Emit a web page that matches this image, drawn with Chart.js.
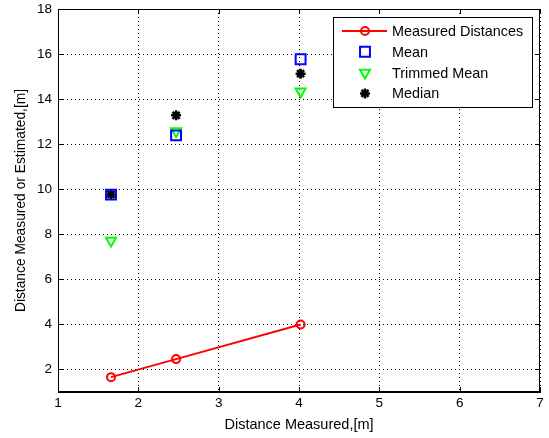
<!DOCTYPE html>
<html><head><meta charset="utf-8">
<script src="https://cdn.jsdelivr.net/npm/chart.js@4/dist/chart.umd.min.js"></script>
<style>html,body{margin:0;padding:0;background:#fff}#wrap{width:549px;height:438px;position:relative}</style>
</head><body><div id="wrap"><canvas id="c" width="549" height="438" style="width:549px;height:438px"></canvas></div>
<script>
const measuredX = [1.66, 2.47, 4.02];
const measuredY = [1.66, 2.46, 4.0];
const meanY = [9.76, 12.39, 15.77];
const trimmedY = [7.72, 12.58, 14.34];
const medianY = [9.77, 13.28, 15.13];
const xTicks = [1, 2, 3, 4, 5, 6, 7];
const yTicks = [2, 4, 6, 8, 10, 12, 14, 16, 18];
const seriesNames = ['Measured Distances', 'Mean', 'Trimmed Mean', 'Median'];

const FAM = 'Liberation Sans, Arial, sans-serif';
const TICKFONT = {family: FAM, size: 13.5};
const XTITLEFONT = {family: FAM, size: 14.5};
const YTITLEFONT = {family: FAM, size: 13.8};
const LEGENDSIZE = 14.4;
const pts = ys => measuredX.map((x, i) => ({x: x, y: ys[i]}));

const legendPlugin = {
  id: 'boxLegend',
  afterDatasetsDraw(chart) {
    const ctx = chart.ctx, ca = chart.chartArea;
    ctx.save();
    ctx.strokeStyle = '#000'; ctx.lineWidth = 1; ctx.setLineDash([]);
    ctx.strokeRect(Math.round(ca.left) + 0.5, Math.round(ca.top) + 0.5, Math.round(ca.right - ca.left) - 1, Math.round(ca.bottom - ca.top) - 1);
    const xs = chart.scales.x, ys = chart.scales.y;
    ctx.beginPath();
    xTicks.forEach(v => { const px = Math.round(xs.getPixelForValue(v)) + 0.5;
      ctx.moveTo(px, ca.bottom); ctx.lineTo(px, ca.bottom - 5);
      ctx.moveTo(px, ca.top); ctx.lineTo(px, ca.top + 5); });
    yTicks.forEach(v => { const py = Math.round(ys.getPixelForValue(v)) + 0.5;
      ctx.moveTo(ca.left, py); ctx.lineTo(ca.left + 5, py);
      ctx.moveTo(ca.right, py); ctx.lineTo(ca.right - 5, py); });
    ctx.stroke();
    const bx = 333, by = 17, bw = 199, bh = 90;
    ctx.fillStyle = '#fff'; ctx.fillRect(bx, by, bw, bh);
    ctx.strokeRect(bx + 0.5, by + 0.5, bw, bh);
    ctx.font = LEGENDSIZE + 'px ' + FAM;
    ctx.textBaseline = 'middle'; ctx.textAlign = 'left'; ctx.fillStyle = '#000';
    chart.data.datasets.forEach((ds, i) => {
      const cy = 31 + i * 20.8, mx = 365;
      if (ds.showLine) {
        ctx.strokeStyle = ds.borderColor; ctx.lineWidth = ds.borderWidth;
        ctx.beginPath(); ctx.moveTo(342, cy); ctx.lineTo(387, cy); ctx.stroke();
      }
      ctx.strokeStyle = ds.pointBorderColor; ctx.fillStyle = ds.pointBackgroundColor;
      ctx.lineWidth = ds.pointBorderWidth;
      Chart.helpers.drawPoint(ctx, {pointStyle: ds.pointStyle, rotation: ds.pointRotation || 0, radius: ds.pointRadius, borderWidth: ds.pointBorderWidth}, mx, cy);
      ctx.fillStyle = '#000';
      ctx.fillText(ds.label, 392, cy + 1);
    });
    ctx.restore();
  }
};

new Chart(document.getElementById('c'), {
  type: 'scatter',
  data: {
    datasets: [
      {label: seriesNames[0], data: pts(measuredY), showLine: true, borderColor: '#ff0000', borderWidth: 2,
       pointStyle: 'circle', pointRadius: 4, pointBorderColor: '#ff0000', pointBackgroundColor: 'rgba(0,0,0,0)', pointBorderWidth: 2},
      {label: seriesNames[1], data: pts(meanY), showLine: false, borderColor: '#0000ff',
       pointStyle: 'rect', pointRadius: 7, pointBorderColor: '#0000ff', pointBackgroundColor: 'rgba(0,0,0,0)', pointBorderWidth: 2},
      {label: seriesNames[2], data: pts(trimmedY), showLine: false, borderColor: '#00ff00',
       pointStyle: 'triangle', pointRotation: 180, pointRadius: 5.8, pointBorderColor: '#00ff00', pointBackgroundColor: 'rgba(0,0,0,0)', pointBorderWidth: 2},
      {label: seriesNames[3], data: pts(medianY), showLine: false, borderColor: '#000',
       pointStyle: 'star', pointRadius: 5, pointBorderColor: '#000', pointBackgroundColor: '#000', pointBorderWidth: 2.5}
    ]
  },
  options: {
    responsive: false, animation: false, devicePixelRatio: 1,
    layout: {padding: {left: 0, right: 8, top: 9, bottom: 0}},
    plugins: {legend: {display: false}, tooltip: {enabled: false}},
    scales: {
      x: {type: 'linear', min: 1, max: 7,
        afterBuildTicks: s => { s.ticks = xTicks.map(v => ({value: v})); },
        afterFit: s => { s.height = 46; s.paddingLeft = 0; s.paddingRight = 0; },
        ticks: {color: '#000', font: TICKFONT, padding: 3, callback: v => String(v)},
        grid: {color: '#000', lineWidth: 1, drawTicks: false, tickLength: 0},
        border: {display: true, color: '#000', dash: [1, 3]},
        title: {display: true, text: 'Distance Measured,[m]', color: '#000', font: XTITLEFONT, padding: {top: 0}}
      },
      y: {type: 'linear', min: 1, max: 18,
        afterBuildTicks: s => { s.ticks = yTicks.map(v => ({value: v})); },
        afterFit: s => { s.width = 58; s.paddingTop = 0; s.paddingBottom = 0; },
        ticks: {color: '#000', font: TICKFONT, padding: 6, callback: v => String(v)},
        grid: {color: '#000', lineWidth: 1, drawTicks: false, tickLength: 0},
        border: {display: true, color: '#000', dash: [1, 3]},
        title: {display: true, text: 'Distance Measured or Estimated,[m]', color: '#000', font: YTITLEFONT, padding: {top: 13, bottom: 0}}
      }
    }
  },
  plugins: [legendPlugin]
});
</script></body></html>
